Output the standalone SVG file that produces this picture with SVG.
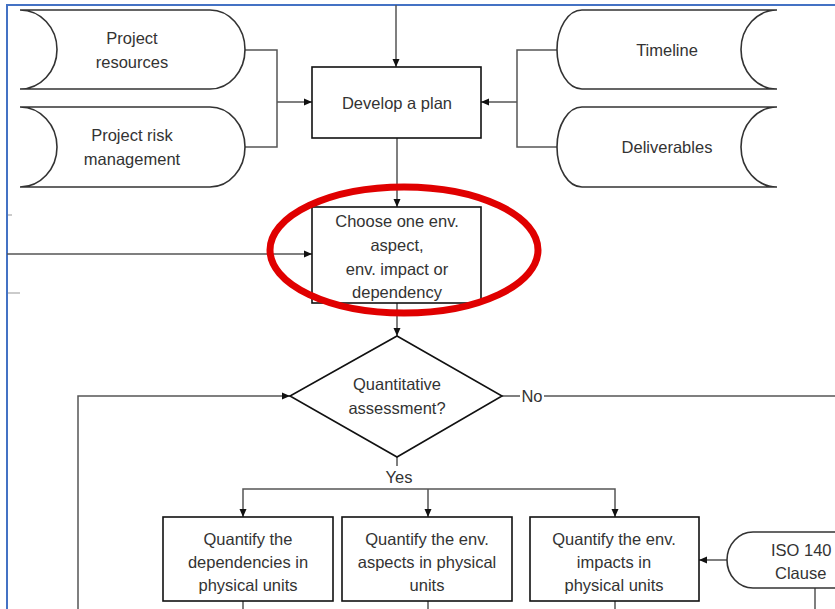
<svg xmlns="http://www.w3.org/2000/svg" width="835" height="609" viewBox="0 0 835 609">
  <defs>
    <marker id="arrow" viewBox="0 0 8 8" refX="8" refY="4" markerWidth="8" markerHeight="8" markerUnits="userSpaceOnUse" orient="auto">
      <path d="M0,0.5 L8,4 L0,7.5 Z" fill="#111"/>
    </marker>
    <style>
      .frame { stroke: #4472c4; stroke-width: 2; fill: none; }
      .box { fill: #fff; stroke: #111; stroke-width: 1.6; }
      .store { fill: #fff; stroke: #333; stroke-width: 1.6; }
      .conn { fill: none; stroke: #555; stroke-width: 1.5; }
      .arr { marker-end: url(#arrow); }
      .faint { fill: none; stroke: #bbb; stroke-width: 1.5; }
      text { font-family: "Liberation Sans", Arial, sans-serif; font-size: 16.5px; fill: #333; text-anchor: middle; }
      .mark { fill: none; stroke: #e00000; stroke-width: 7; }
    </style>
  </defs>

  <rect width="835" height="609" fill="#fff"/>
  <path class="frame" d="M7,609 V5 H835"/>

  <g id="connectors">
    <path class="conn arr" d="M396,5 V67"/>
    <path class="conn" d="M245,50 H277 V147 H245"/>
    <path class="conn arr" d="M277,102 H312"/>
    <path class="conn" d="M557,50 H517 V147 H557"/>
    <path class="conn arr" d="M517,102 H481"/>
    <path class="conn arr" d="M397,138 V207"/>
    <path class="conn arr" d="M7,254 H312"/>
    <path class="conn arr" d="M397,303 V336"/>
    <path class="conn" d="M502,396 H520"/>
    <path class="conn" d="M544,396 H835"/>
    <path class="conn arr" d="M78,609 V396 H290"/>
    <path class="conn" d="M397,457 V466"/>
    <path class="conn arr" d="M428,489 H243 V517"/>
    <path class="conn arr" d="M428,489 V517"/>
    <path class="conn arr" d="M428,489 H615 V517"/>
    <path class="conn arr" d="M727,560 H699"/>
    <path class="conn" d="M243,601 V609 M428,601 V609 M615,601 V609 M815,588 V609"/>
    <path class="faint" d="M8,215 H12 M8,293 H20"/>
  </g>

  <g id="project-resources">
    <path class="store" d="M20,10 H210 A35,39.5 0 0 1 210,89 H20 A37,39.5 0 0 0 20,10 Z"/>
    <text x="132" y="44">Project</text>
    <text x="132" y="68">resources</text>
  </g>

  <g id="project-risk-management">
    <path class="store" d="M20,107 H210 A35,40 0 0 1 210,187 H20 A37,40 0 0 0 20,107 Z"/>
    <text x="132" y="141">Project risk</text>
    <text x="132" y="165">management</text>
  </g>

  <g id="timeline">
    <path class="store" d="M582,10 H777 A36,39.5 0 0 0 777,89 H582 A25,39.5 0 0 1 582,10 Z"/>
    <text x="667" y="56">Timeline</text>
  </g>

  <g id="deliverables">
    <path class="store" d="M582,107 H777 A36,40 0 0 0 777,187 H582 A25,40 0 0 1 582,107 Z"/>
    <text x="667" y="153">Deliverables</text>
  </g>

  <g id="develop-plan">
    <rect class="box" x="312" y="67" width="169" height="71"/>
    <text x="397" y="109">Develop a plan</text>
  </g>

  <g id="choose-one">
    <rect class="box" x="312" y="207" width="169" height="96"/>
    <text x="397" y="227">Choose one env.</text>
    <text x="397" y="251">aspect,</text>
    <text x="397" y="275">env. impact or</text>
    <text x="397" y="298">dependency</text>
  </g>

  <g id="quantitative-decision">
    <path class="box" d="M397,336 L502,396 L397,457 L290,396 Z"/>
    <text x="397" y="390">Quantitative</text>
    <text x="397" y="414">assessment?</text>
  </g>

  <g id="labels">
    <text x="532" y="402">No</text>
    <text x="399" y="483">Yes</text>
  </g>

  <g id="quantify-dependencies">
    <rect class="box" x="163" y="517" width="170" height="84"/>
    <text x="248" y="545">Quantify the</text>
    <text x="248" y="568">dependencies in</text>
    <text x="248" y="591">physical units</text>
  </g>

  <g id="quantify-aspects">
    <rect class="box" x="342" y="517" width="170" height="84"/>
    <text x="427" y="545">Quantify the env.</text>
    <text x="427" y="568">aspects in physical</text>
    <text x="427" y="591">units</text>
  </g>

  <g id="quantify-impacts">
    <rect class="box" x="530" y="517" width="169" height="84"/>
    <text x="614" y="545">Quantify the env.</text>
    <text x="614" y="568">impacts in</text>
    <text x="614" y="591">physical units</text>
  </g>

  <g id="iso-clause">
    <path class="store" d="M850,532 H753 A26,28 0 0 0 753,588 H850"/>
    <text x="771" y="556" style="text-anchor:start">ISO 140</text>
    <text x="775" y="579" style="text-anchor:start">Clause</text>
  </g>

  <g id="highlight">
    <ellipse class="mark" cx="404" cy="250" rx="134" ry="63"/>
  </g>
</svg>
